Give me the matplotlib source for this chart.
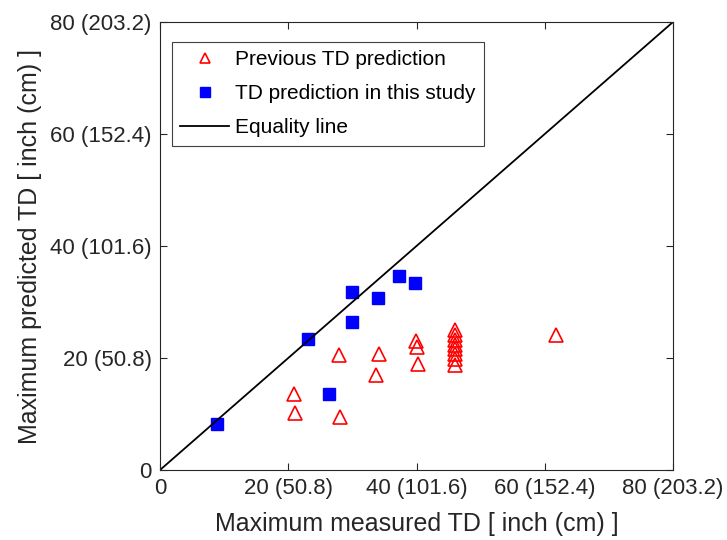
import matplotlib
matplotlib.use("Agg")
import matplotlib.pyplot as plt

plt.rcParams['font.family'] = ['Liberation Sans', 'DejaVu Sans']

# Previous TD prediction (red open triangles)
prev_x = [20.9, 21.1, 27.9, 28.1, 33.7, 34.2, 39.9, 40.0, 40.2,
          46.0, 46.0, 46.0, 46.0, 46.0, 46.0, 46.0, 46.0, 61.7]
prev_y = [13.6, 10.2, 20.5, 9.5, 17.0, 20.7, 23.0, 22.0, 18.9,
          25.0, 24.1, 23.2, 22.3, 21.6, 20.8, 19.8, 18.7, 24.1]

# TD prediction in this study (blue filled squares)
study_x = [8.9, 23.1, 26.3, 29.9, 30.0, 34.0, 37.3, 39.8]
study_y = [8.2, 23.4, 13.6, 26.4, 31.7, 30.8, 34.7, 33.4]

# Equality line
eq_x = [0, 80]
eq_y = [0, 80]

tick_vals = [0, 20, 40, 60, 80]
tick_labels = ['0', '20 (50.8)', '40 (101.6)', '60 (152.4)', '80 (203.2)']

fig = plt.figure(figsize=(7.27, 5.40), dpi=100)
ax = fig.add_axes([160/727, 1-470/540, 513/727, 448/540])

ax.plot(prev_x, prev_y, linestyle='none', marker='^', markersize=9.5,
        markerfacecolor='none', markeredgecolor='red', markeredgewidth=1.2,
        label='Previous TD prediction')
ax.plot(study_x, study_y, linestyle='none', marker='s', markersize=9,
        markerfacecolor='blue', markeredgecolor='blue', label='TD prediction in this study')
ax.plot(eq_x, eq_y, color='black', linewidth=1.3, label='Equality line')

ax.set_xlim(0, 80)
ax.set_ylim(0, 80)
ax.set_xticks(tick_vals)
ax.set_xticklabels(tick_labels)
ax.set_yticks(tick_vals)
ax.set_yticklabels(tick_labels)
ax.tick_params(direction='in', top=True, right=True, length=5, width=0.8,
               labelsize=16, colors='#262626', labelcolor='#262626', pad=6)
for s in ax.spines.values():
    s.set_color('#262626')
    s.set_linewidth(0.8)

ax.set_xlabel('Maximum measured TD [ inch (cm) ]', fontsize=18, color='#262626', labelpad=9)
ax.set_ylabel('Maximum predicted TD [ inch (cm) ]', fontsize=18, color='#262626', labelpad=6)

leg = ax.legend(loc='upper left', bbox_to_anchor=(0.023, 0.955), borderaxespad=0,
                fontsize=15, frameon=True, fancybox=False, framealpha=1,
                edgecolor='#404040', handlelength=2.35, handletextpad=0.3,
                borderpad=0.4, labelspacing=0.72)
leg.get_frame().set_linewidth(0.8)
for h in leg.legend_handles[:2]:
    h.set_markersize(7)

fig.savefig('out.png', dpi=100)
